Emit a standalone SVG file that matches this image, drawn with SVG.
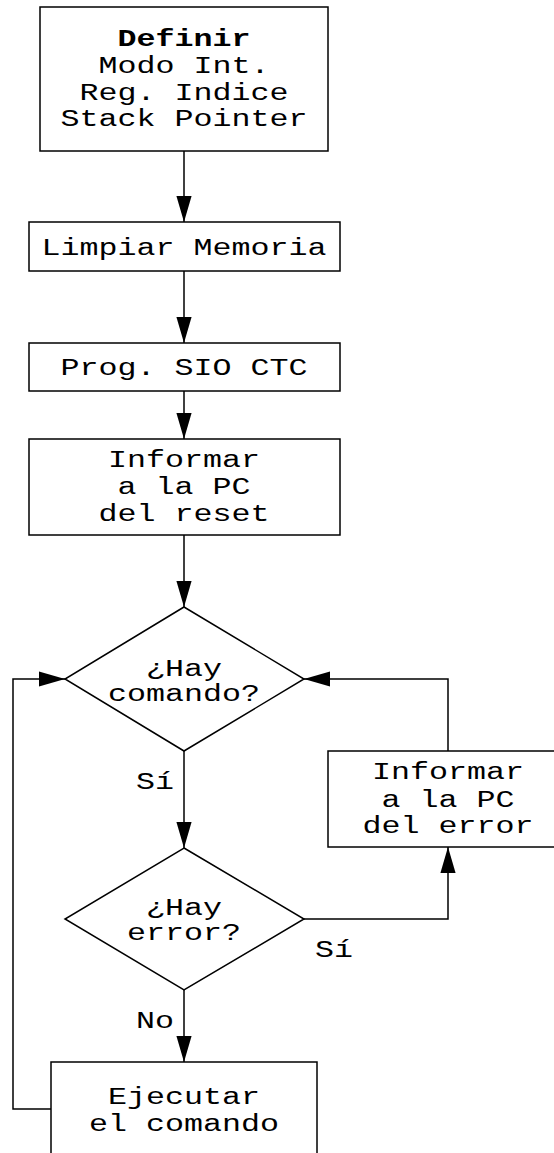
<svg xmlns="http://www.w3.org/2000/svg" width="554" height="1153" viewBox="0 0 554 1153">
<defs>
<style>
.s{fill:#fff;stroke:#000;stroke-width:1.5}
.c{fill:none;stroke:#000;stroke-width:1.5}
text{font-family:"Liberation Mono","Courier New",monospace;font-size:24px;fill:#000;text-anchor:middle}
.b{font-weight:bold}
</style>
<marker id="ah" markerUnits="userSpaceOnUse" markerWidth="26" markerHeight="16" viewBox="0 0 24 14" refX="24" refY="7" orient="auto">
<path d="M0,0 L24,7 L0,14 Z" fill="#000"/>
</marker>
</defs>
<rect width="554" height="1153" fill="#fff"/>
<g id="connectors">
<line class="c" x1="184" y1="151" x2="184" y2="222" marker-end="url(#ah)"/>
<line class="c" x1="184" y1="271" x2="184" y2="343" marker-end="url(#ah)"/>
<line class="c" x1="184" y1="391" x2="184" y2="439" marker-end="url(#ah)"/>
<line class="c" x1="184" y1="535" x2="184" y2="607" marker-end="url(#ah)"/>
<line class="c" x1="184" y1="751" x2="184" y2="848" marker-end="url(#ah)"/>
<line class="c" x1="184" y1="990" x2="184" y2="1062" marker-end="url(#ah)"/>
<polyline class="c" points="51,1109 13,1109 13,679 65,679" marker-end="url(#ah)"/>
<polyline class="c" points="448,751 448,679 304,679" marker-end="url(#ah)"/>
<polyline class="c" points="304,919 448,919 448,847" marker-end="url(#ah)"/>
<g transform="translate(155,0) scale(1.32,1)"><text x="0" y="789">Sí</text><text x="0" y="1028">No</text></g>
<g transform="translate(334,0) scale(1.32,1)"><text x="0" y="957">Sí</text></g>
</g>
<g id="definir">
<rect class="s" x="40" y="7" width="288" height="144"/>
<g transform="translate(184,0) scale(1.32,1)">
<text class="b" x="0" y="46">Definir</text>
<text x="0" y="73">Modo Int.</text>
<text x="0" y="100">Reg. Indice</text>
<text x="0" y="126">Stack Pointer</text>
</g>
</g>
<g id="limpiar">
<rect class="s" x="29" y="222" width="311" height="49"/>
<g transform="translate(184,0) scale(1.32,1)"><text x="0" y="255">Limpiar Memoria</text></g>
</g>
<g id="prog">
<rect class="s" x="29" y="343" width="311" height="48"/>
<g transform="translate(184,0) scale(1.32,1)"><text x="0" y="375">Prog. SIO CTC</text></g>
</g>
<g id="informar-reset">
<rect class="s" x="29" y="439" width="311" height="96"/>
<g transform="translate(184,0) scale(1.32,1)">
<text x="0" y="467">Informar</text>
<text x="0" y="494">a la PC</text>
<text x="0" y="521">del reset</text>
</g>
</g>
<g id="hay-comando">
<polygon class="s" points="184,607 304,679 184,751 65,679"/>
<g transform="translate(184,0) scale(1.32,1)">
<text x="0" y="676">¿Hay</text>
<text x="0" y="701">comando?</text>
</g>
</g>
<g id="informar-error">
<rect class="s" x="328" y="751" width="240" height="96"/>
<g transform="translate(448,0) scale(1.32,1)">
<text x="0" y="779">Informar</text>
<text x="0" y="807">a la PC</text>
<text x="0" y="833">del error</text>
</g>
</g>
<g id="hay-error">
<polygon class="s" points="184,848 304,919 184,990 65,919"/>
<g transform="translate(184,0) scale(1.32,1)">
<text x="0" y="915">¿Hay</text>
<text x="0" y="940">error?</text>
</g>
</g>
<g id="ejecutar">
<rect class="s" x="51" y="1062" width="266" height="110"/>
<g transform="translate(184,0) scale(1.32,1)">
<text x="0" y="1104">Ejecutar</text>
<text x="0" y="1131">el comando</text>
</g>
</g>
</svg>
